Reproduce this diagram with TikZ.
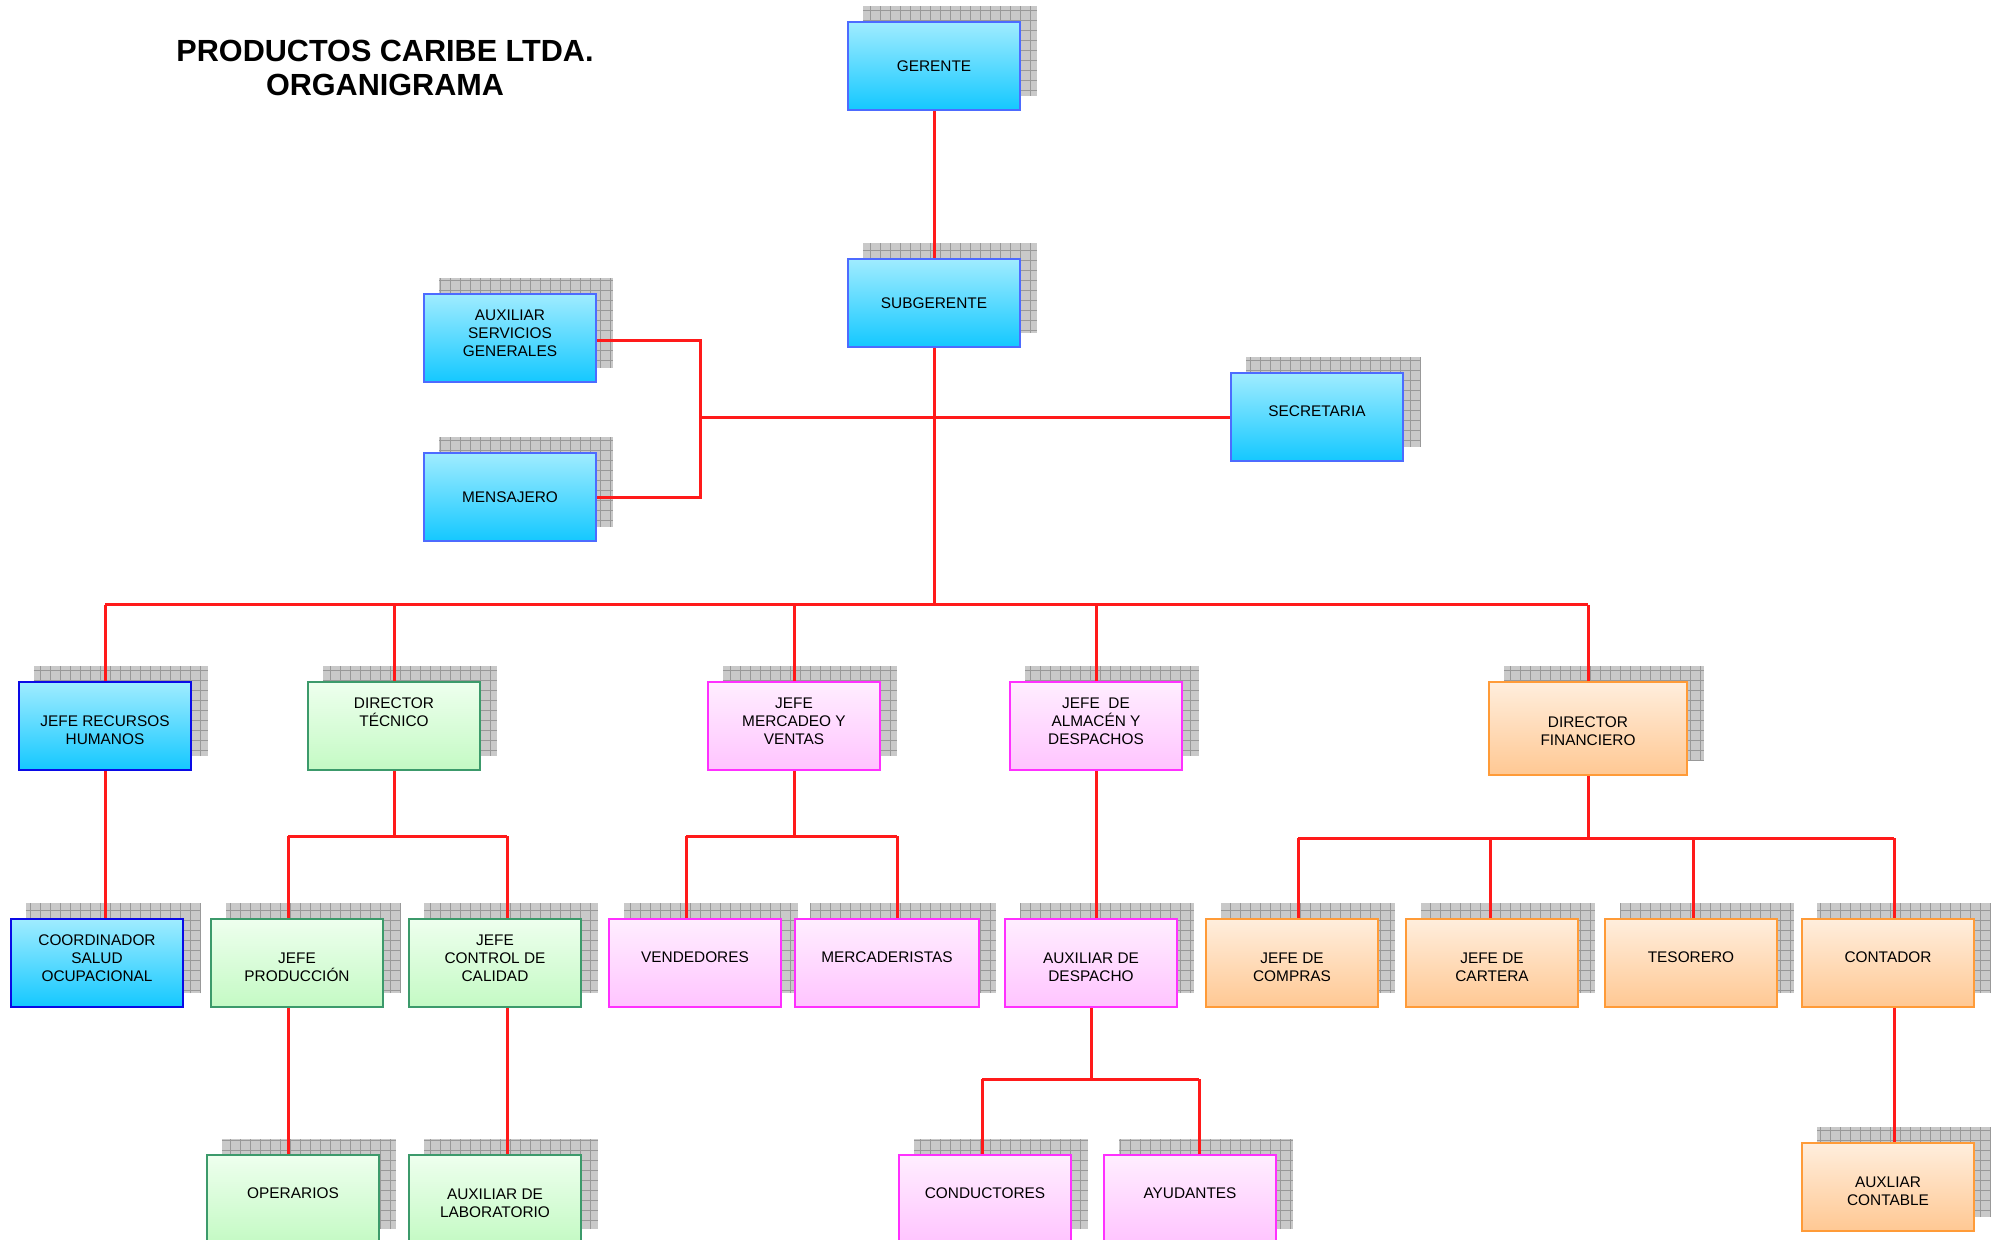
\documentclass[tikz,border=0pt]{standalone}
\usepackage{fontspec}
\setmainfont{Liberation Sans}
\usetikzlibrary{positioning}

\definecolor{azulborde}{HTML}{4D6BFF}
\definecolor{azuloscuro}{HTML}{0A0AE6}
\definecolor{azularriba}{HTML}{A0ECFF}
\definecolor{azulabajo}{HTML}{14C8FF}
\definecolor{verdeborde}{HTML}{3C9A6B}
\definecolor{verdearriba}{HTML}{EEFFEE}
\definecolor{verdeabajo}{HTML}{C4FAC4}
\definecolor{rosaborde}{HTML}{FF30FF}
\definecolor{rosaarriba}{HTML}{FFEEFF}
\definecolor{rosaabajo}{HTML}{FFC4FF}
\definecolor{naranjaborde}{HTML}{FF9B38}
\definecolor{naranjaarriba}{HTML}{FFEEDD}
\definecolor{naranjaabajo}{HTML}{FFC893}
\definecolor{rojo}{HTML}{FF1A1A}

\pgfdeclarelayer{sombras}
\pgfdeclarelayer{lineas}
\pgfsetlayers{sombras,lineas,main}

\begin{document}
\begin{tikzpicture}[x=0.5pt,y=-0.5pt,
        caja/.style={rectangle,draw,line width=1pt,minimum width=86pt,minimum height=44pt,
          inner sep=1pt,align=center,font=\fontsize{7.7}{9}\selectfont},
        cajaazul/.style={caja,draw=azulborde,top color=azularriba,bottom color=azulabajo},
        cajaazuloscuro/.style={cajaazul,draw=azuloscuro,line width=1.4pt},
        cajaverde/.style={caja,draw=verdeborde,top color=verdearriba,bottom color=verdeabajo},
        cajarosa/.style={caja,draw=rosaborde,top color=rosaarriba,bottom color=rosaabajo},
        cajanaranja/.style={caja,draw=naranjaborde,top color=naranjaarriba,bottom color=naranjaabajo},
        una/.style={text depth=6pt},
        dos/.style={text height=19pt},
        tres/.style={text depth=5pt},
        sombra/.style={fill=gray!42},
        rejilla/.style={draw=gray!80,line width=0.4pt,step=5pt},
        enlace/.style={draw=rojo,line width=1.5pt},
        titulo/.style={align=center,font=\fontsize{15.3}{17}\selectfont\bfseries}]

        \useasboundingbox (0,0) rectangle (1993,1240);

        \node[titulo] (titulo) at (385,68) {PRODUCTOS CARIBE LTDA.\\ORGANIGRAMA};

        \node[cajaazul] (gerente) at (934,66) {GERENTE};
        \node[cajaazul] (subgerente) at (934,303) {SUBGERENTE};
        \node[cajaazul,tres] (auxserv) at (510,338) {AUXILIAR\\SERVICIOS\\GENERALES};
        \node[cajaazul] (mensajero) at (510,497) {MENSAJERO};
        \node[cajaazul,una] (secretaria) at (1317,417) {SECRETARIA};

        \node[cajaazuloscuro,dos] (rrhh) at (105,726) {JEFE RECURSOS\\HUMANOS};
        \node[cajaverde,tres] (dirtec) at (394,726) {DIRECTOR\\TÉCNICO\\\strut};
        \node[cajarosa,tres] (mercadeo) at (794,726) {JEFE\\MERCADEO Y\\VENTAS};
        \node[cajarosa,tres] (almacen) at (1096,726) {JEFE\ \ DE\\ALMACÉN Y\\DESPACHOS};
        \node[cajanaranja,dos,text height=17pt,minimum width=99pt,minimum height=46.5pt] (financiero) at (1588,728.5) {DIRECTOR\\FINANCIERO};

        \node[cajaazuloscuro,tres] (coord) at (97,963) {COORDINADOR\\SALUD\\OCUPACIONAL};
        \node[cajaverde,dos] (jprod) at (297,963) {JEFE\\PRODUCCIÓN};
        \node[cajaverde,tres] (jcalidad) at (495,963) {JEFE\\CONTROL DE\\CALIDAD};
        \node[cajarosa,una] (vendedores) at (695,963) {VENDEDORES};
        \node[cajarosa,una,minimum width=92pt] (mercaderistas) at (887,963) {MERCADERISTAS};
        \node[cajarosa,dos] (auxdespacho) at (1091,963) {AUXILIAR DE\\DESPACHO};
        \node[cajanaranja,dos] (jcompras) at (1292,963) {JEFE DE\\COMPRAS};
        \node[cajanaranja,dos] (jcartera) at (1492,963) {JEFE DE\\CARTERA};
        \node[cajanaranja,una] (tesorero) at (1691,963) {TESORERO};
        \node[cajanaranja,una] (contador) at (1888,963) {CONTADOR};

        \node[cajaverde,una] (operarios) at (293,1199) {OPERARIOS};
        \node[cajaverde,dos] (auxlab) at (495,1199) {AUXILIAR DE\\LABORATORIO};
        \node[cajarosa,una] (conductores) at (985,1199) {CONDUCTORES};
        \node[cajarosa,una] (ayudantes) at (1190,1199) {AYUDANTES};
        \node[cajanaranja,dos] (auxcontable) at (1888,1187) {AUXLIAR\\CONTABLE};

        \begin{pgfonlayer}{sombras}
          \foreach \n in {gerente,subgerente,auxserv,mensajero,secretaria,rrhh,dirtec,mercadeo,
              almacen,financiero,coord,jprod,jcalidad,vendedores,mercaderistas,auxdespacho,
              jcompras,jcartera,tesorero,contador,operarios,auxlab,conductores,ayudantes,auxcontable}
          {
            \fill[sombra] ([shift={(16,-15)}]\n.south west) rectangle ([shift={(16,-15)}]\n.north east);
            \draw[rejilla] ([shift={(16,-15)}]\n.south west) grid ([shift={(16,-15)}]\n.north east);
          }
        \end{pgfonlayer}

        \coordinate (barra) at (0,605);
        \coordinate (ramaaux) at (700,418);
        \coordinate (ramaaux1) at (700,341);
        \coordinate (ramaaux2) at (700,498);
        \coordinate (tec1) at (288,836);
        \coordinate (tec2) at (507,836);
        \coordinate (mer1) at (686,836);
        \coordinate (mer2) at (897,836);
        \coordinate (alm1) at (982,1079);
        \coordinate (alm2) at (1199,1079);
        \coordinate (fin1) at (1298,838);
        \coordinate (fin2) at (1490,838);
        \coordinate (fin3) at (1693,838);
        \coordinate (fin4) at (1894,838);

        \begin{pgfonlayer}{lineas}
          \path[enlace]
            (gerente) -- (subgerente)
            (subgerente) -- (subgerente |- barra)
            (secretaria.west |- ramaaux) -- (ramaaux)
            (auxserv.east |- ramaaux1) -- (ramaaux1) -- (ramaaux2) -- (mensajero.east |- ramaaux2)
            (rrhh.north |- barra) -- (financiero.north |- barra);
          \foreach \n in {rrhh,dirtec,mercadeo,almacen,financiero}
            \path[enlace] (\n.north |- barra) -- (\n.north);

          \path[enlace]
            (rrhh) -- (rrhh |- coord.north)
            (dirtec) -- (dirtec |- tec1)
            (tec1) -- (tec2)
            (tec1) -- (tec1 |- jprod.north)
            (tec2) -- (tec2 |- jcalidad.north)
            (tec1 |- jprod.south) -- (tec1 |- operarios.north)
            (tec2 |- jcalidad.south) -- (tec2 |- auxlab.north)
            (mercadeo) -- (mercadeo |- mer1)
            (mer1) -- (mer2)
            (mer1) -- (mer1 |- vendedores.north)
            (mer2) -- (mer2 |- mercaderistas.north)
            (almacen) -- (almacen |- auxdespacho.north)
            (auxdespacho.south) -- (auxdespacho.south |- alm1)
            (alm1) -- (alm2)
            (alm1) -- (alm1 |- conductores.north)
            (alm2) -- (alm2 |- ayudantes.north)
            (financiero) -- (financiero |- fin1)
            (fin1) -- (fin4)
            (fin1) -- (fin1 |- jcompras.north)
            (fin2) -- (fin2 |- jcartera.north)
            (fin3) -- (fin3 |- tesorero.north)
            (fin4) -- (fin4 |- contador.north)
            (fin4 |- contador.south) -- (fin4 |- auxcontable.north);
        \end{pgfonlayer}
      \end{tikzpicture}
\end{document}
